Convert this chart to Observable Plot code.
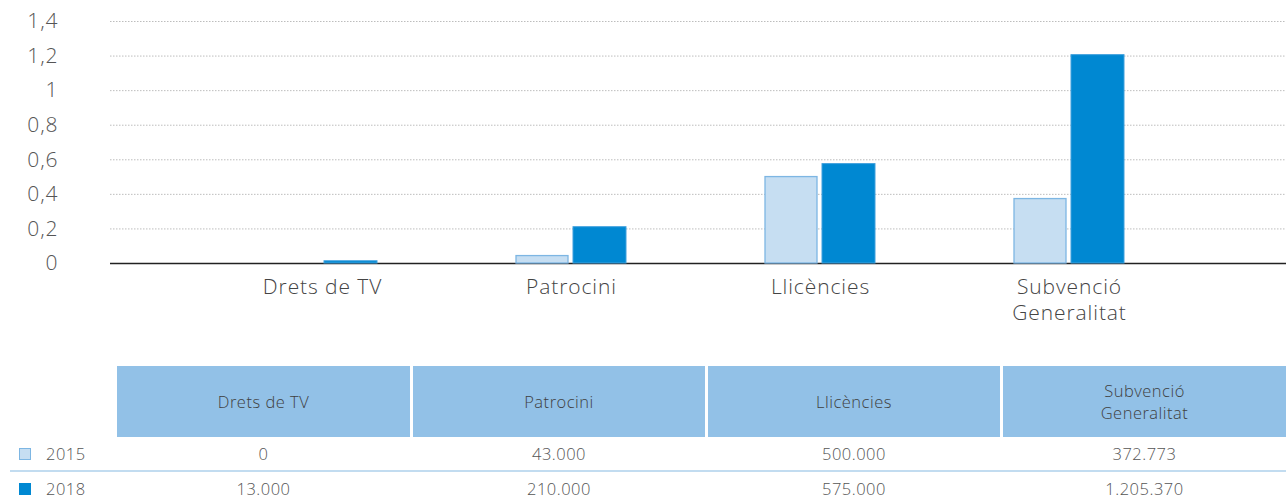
<!DOCTYPE html>
<html>
<head>
<meta charset="utf-8">
<script src="https://cdn.jsdelivr.net/npm/d3@7"></script>
<script src="https://cdn.jsdelivr.net/npm/@observablehq/plot@0.6"></script>
<style>
  html, body { margin: 0; padding: 0; background: #fff; }
  body { font-family: "Open Sans", Lato, sans-serif; font-weight: 300; color: #555; width: 1286px; overflow: hidden; }
  #chart svg { display: block; }
  #chart svg text { font-weight: 300; letter-spacing: 0.9px; }
  #table { margin-top: 26px; position: relative; width: 1286px; }
  .grid { display: grid; grid-template-columns: 114px 293px 292px 292px 283px; column-gap: 3px; }
  .head div.cell { background: #92c1e7; height: 71px; display: flex; align-items: center; justify-content: center; text-align: center; white-space: pre-line; font-size: 16.5px; letter-spacing: 0.5px; color: #3f3f3f; line-height: 22px; }
  .row { height: 33px; align-items: center; font-size: 16.5px; letter-spacing: 0.5px; color: #555; }
  .row div { text-align: center; }
  .row div.lab { text-align: left; display: flex; align-items: center; }
  .sw { display: inline-block; width: 12px; height: 12px; margin-left: 19px; margin-right: 15px; box-sizing: border-box; }
  .sep { height: 2px; background: #c2dcf0; margin-left: 10px; }
</style>
</head>
<body>
<div id="chart"></div>
<div id="table"></div>
<script>
// ---- Data ----
const categories = ["Drets de TV", "Patrocini", "Llicències", "Subvenció Generalitat"];
const categoryLabels = ["Drets de TV", "Patrocini", "Llicències", "Subvenció\nGeneralitat"];
const years = ["2015", "2018"];
const values2015 = [0, 43000, 500000, 372773];
const values2018 = [13000, 210000, 575000, 1205370];
const yTicks = [0, 0.2, 0.4, 0.6, 0.8, 1, 1.2, 1.4];

// ---- Styles ----
const fill2015 = "#c6def2", stroke2015 = "#7db6e3";
const fill2018 = "#0088d2", stroke2018 = "#3fa0dd";

const rows2015 = categories.map((c, i) => ({category: c, year: years[0], value: values2015[i]}));
const rows2018 = categories.map((c, i) => ({category: c, year: years[1], value: values2018[i]}));

const loc = d3.formatLocale({decimal: ",", thousands: ".", grouping: [3], currency: ["", "€"]});
const axisFmt = loc.format("~g");
const numFmt = loc.format(",d");
const labelOf = Object.fromEntries(categories.map((c, i) => [c, categoryLabels[i]]));

const chart = Plot.plot({
  width: 1286,
  height: 340,
  marginLeft: 110,
  marginRight: 0,
  marginTop: 21,
  marginBottom: 77,
  style: {fontFamily: "'Open Sans', Lato, sans-serif", fontSize: "21px", color: "#555", background: "#fff"},
  x: {domain: categories, range: [266, 1124.5], paddingInner: 0.56, paddingOuter: 0, axis: null},
  y: {domain: [0, 1.4], axis: null},
  marks: [
    Plot.ruleY(yTicks.slice(1), {stroke: "#bdbdbd", strokeDasharray: "1.5,1.5", strokeWidth: 1}),
    Plot.ruleY([0], {stroke: "#222", strokeWidth: 1.5}),
    Plot.barY(rows2015, {x: "category", y: d => d.value / 1e6, fill: fill2015, stroke: stroke2015, strokeWidth: 1.3, insetRight: 58}),
    Plot.barY(rows2018, {x: "category", y: d => d.value / 1e6, fill: fill2018, stroke: stroke2018, strokeWidth: 1, insetLeft: 57}),
    Plot.axisY({ticks: yTicks, tickSize: 0, tickPadding: 52, tickFormat: axisFmt, label: null, fontSize: 21, fill: "#555"}),
    Plot.axisX({tickSize: 0, tickPadding: 13, tickFormat: d => labelOf[d], label: null, fontSize: 21, fill: "#444", lineHeight: 1.2})
  ]
});
document.getElementById("chart").appendChild(chart);

// ---- Data table below ----
const table = d3.select("#table");
const head = table.append("div").attr("class", "grid head");
head.append("div");
head.selectAll("div.cell").data(categoryLabels).join("div").attr("class", "cell").text(d => d);

const series = [
  {year: years[0], values: values2015, fill: fill2015, stroke: stroke2015},
  {year: years[1], values: values2018, fill: fill2018, stroke: fill2018}
];
series.forEach((s, i) => {
  if (i > 0) table.append("div").attr("class", "sep");
  const r = table.append("div").attr("class", "grid row");
  const lab = r.append("div").attr("class", "lab");
  lab.append("span").attr("class", "sw").style("background", s.fill).style("border", `1px solid ${s.stroke}`);
  lab.append("span").text(s.year);
  s.values.forEach(v => r.append("div").text(numFmt(v)));
});
</script>
</body>
</html>
